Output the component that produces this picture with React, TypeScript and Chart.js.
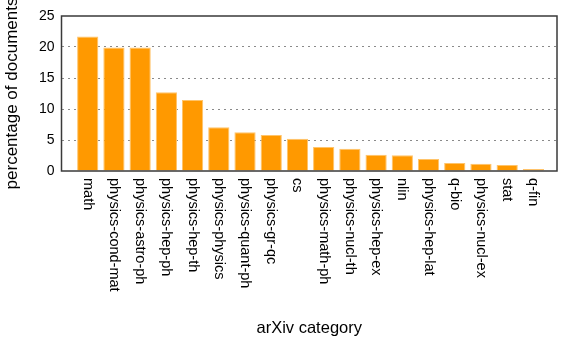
import React, { useEffect, useRef } from "react";
import { Chart, registerables } from "chart.js";

Chart.register(...registerables);

const categories: string[] = [
  "math",
  "physics-cond-mat",
  "physics-astro-ph",
  "physics-hep-ph",
  "physics-hep-th",
  "physics-physics",
  "physics-quant-ph",
  "physics-gr-qc",
  "cs",
  "physics-math-ph",
  "physics-nucl-th",
  "physics-hep-ex",
  "nlin",
  "physics-hep-lat",
  "q-bio",
  "physics-nucl-ex",
  "stat",
  "q-fin",
];

const percentages: number[] = [
  21.7, 19.9, 19.9, 12.7, 11.45, 7.05, 6.25, 5.8, 5.2, 3.87, 3.6, 2.63, 2.53,
  1.95, 1.3, 1.18, 0.97, 0.32,
];

const yTicks: number[] = [0, 5, 10, 15, 20, 25];

const xTitle = "arXiv category";
const yTitle = "percentage of documents";

const FONT = "'Liberation Sans', Arial, Helvetica, sans-serif";

const overlayPlugin = {
  id: "overlay",
  afterDraw(chart: any) {
    const { ctx, chartArea, scales } = chart;
    const xs = scales.x;
    ctx.save();
    // plot border
    ctx.strokeStyle = "#3a3a3a";
    ctx.lineWidth = 1.5;
    ctx.strokeRect(
      chartArea.left,
      chartArea.top,
      chartArea.right - chartArea.left,
      chartArea.bottom - chartArea.top
    );
    // x labels rotated clockwise
    ctx.fillStyle = "#000";
    ctx.font = `14.5px ${FONT}`;
    ctx.textAlign = "left";
    ctx.textBaseline = "middle";
    categories.forEach((c, i) => {
      const px = xs.getPixelForValue(i);
      ctx.save();
      ctx.translate(px, chartArea.bottom + 7);
      ctx.rotate(Math.PI / 2);
      ctx.fillText(c, 0, 0);
      ctx.restore();
    });
    // x title
    ctx.font = `16.5px ${FONT}`;
    ctx.textAlign = "center";
    ctx.textBaseline = "alphabetic";
    ctx.fillText(xTitle, (chartArea.left + chartArea.right) / 2, 333);
    // y title
    ctx.font = `17px ${FONT}`;
    ctx.save();
    ctx.translate(17, (chartArea.top + chartArea.bottom) / 2);
    ctx.rotate(-Math.PI / 2);
    ctx.fillText(yTitle, 0, 0);
    ctx.restore();
    ctx.restore();
  },
};

export default function App() {
  const ref = useRef<HTMLCanvasElement | null>(null);
  useEffect(() => {
    document.body.style.margin = "0";
    const canvas = ref.current;
    if (!canvas) return;
    const chart = new Chart(canvas, {
      type: "bar",
      data: {
        datasets: [
          {
            data: percentages.map((v, i) => ({ x: i, y: v })),
            backgroundColor: "#ff9900",
            borderColor: "#ffc46a",
            borderWidth: 1,
            barPercentage: 0.81,
            categoryPercentage: 1,
          },
        ],
      },
      options: {
        responsive: false,
        animation: false,
        devicePixelRatio: 1,
        layout: { padding: { top: 16, right: 24, left: 0, bottom: 0 } },
        plugins: {
          legend: { display: false },
          tooltip: { enabled: false },
        },
        scales: {
          x: {
            type: "linear",
            min: -1,
            max: 17.9,
            offset: false,
            grid: { display: false, drawTicks: false },
            border: { display: false },
            ticks: { display: false },
            afterFit: (s: any) => {
              s.height = 168;
            },
          },
          y: {
            min: 0,
            max: 25,
            afterBuildTicks: (s: any) => {
              s.ticks = yTicks.map((v) => ({ value: v }));
            },
            grid: {
              drawTicks: false,
              color: (c: any) =>
                c.tick && (c.tick.value === 0 || c.tick.value === 25)
                  ? "rgba(0,0,0,0)"
                  : "#8a8a8a",
              lineWidth: 1,
            },
            border: { display: false, dash: [2, 4] },
            ticks: {
              padding: 7,
              color: "#000",
              font: { size: 14, family: FONT },
            },
            afterFit: (s: any) => {
              s.width = 61.5;
            },
          },
        },
      },
      plugins: [overlayPlugin],
    });
    return () => chart.destroy();
  }, []);
  return (
    <canvas
      ref={ref}
      width={581}
      height={339}
      style={{ display: "block", width: 581, height: 339 }}
    />
  );
}
